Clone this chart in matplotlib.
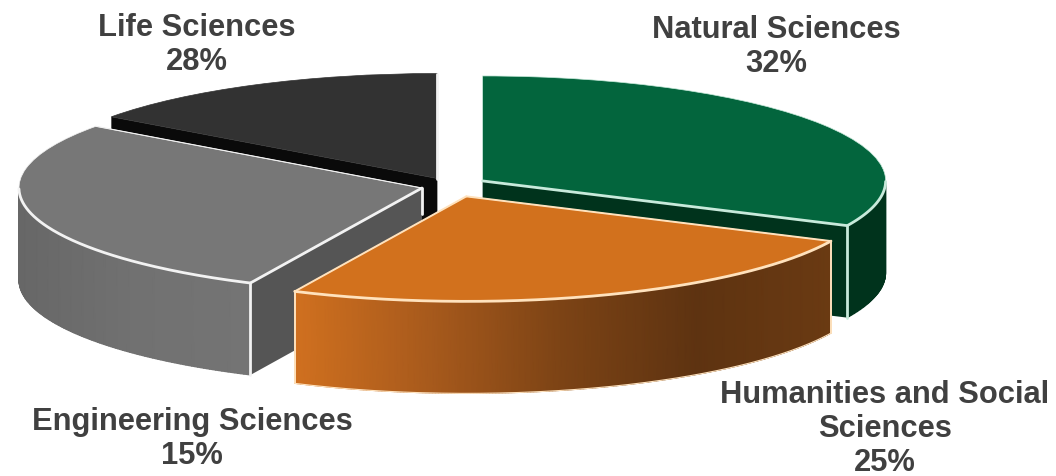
import numpy as np
import matplotlib
matplotlib.use("Agg")
import matplotlib.pyplot as plt
from matplotlib.colors import LinearSegmentedColormap

plt.rcParams['font.family'] = ['Liberation Sans', 'DejaVu Sans']

names = ["Natural Sciences", "Humanities and Social\nSciences", "Engineering Sciences", "Life Sciences"]
# printed percentages
label_pct = [32, 25, 15, 28]
# slice sizes as drawn (engineering and life are swapped against their labels in the picture)
shares = [32, 25, 28, 15]
explode = [0.09, 0.105, 0.077, 0.08]

W, H = 1056, 476
cx, cy = 452, 186   # pie centre in pixels
rx, ry = 403, 105   # pie radii in pixels
depth = 92 / ry     # wall height in data units

top_colors = ["#03653d", "#d2711d", "#777777", "#323232"]
cut_colors = ["#00331c", "#5e3311", "#555555", "#0a0a0a"]
line_colors = ["#c8eadb", "#ffe2bd", "#f2f2f2", "#f2f2f2"]
wall_stops = [
    ["#00331c", "#00331c"],
    ["#d0701f", "#a85a1c", "#7c4315", "#5e3311", "#6a3a12"],
    ["#676767", "#717171", "#747474"],
    ["#222222", "#222222"],
]
label_xy = [(776, 47), (885, 429), (192, 439), (197, 45)]

fig = plt.figure(figsize=(W / 100, H / 100), dpi=100)
ax = fig.add_axes([0, 0, 1, 1])
wedges, _ = ax.pie(shares, explode=explode, colors=top_colors, startangle=90,
                   counterclock=False, center=(0, 0), radius=1)
ax.set_aspect('auto')
ax.set_xlim(-cx / rx, (W - cx) / rx)
ax.set_ylim((cy - H) / ry, cy / ry)


def rim(w, t):
    t = np.radians(t)
    return w.center[0] + w.r * np.cos(t), w.center[1] + w.r * np.sin(t)


def edge(xs, ys, color, z, lw=2.0):
    ax.plot(xs, ys, color=color, lw=lw, zorder=z, solid_capstyle='round')


# back slices first so the front ones cover them
draw_order = [3, 0, 2, 1]
for n, i in enumerate(draw_order):
    w = wedges[i]
    z = 2 + n * 3
    a0, a1 = w.theta1, w.theta2
    ax0, ay0 = w.center
    c = line_colors[i]

    # cut faces
    for a in (a0, a1):
        rx_, ry_ = rim(w, a)
        ax.fill([ax0, rx_, rx_, ax0], [ay0, ry_, ry_ - depth, ay0 - depth],
                color=cut_colors[i], lw=0, zorder=z)

    # outer wall, only the part that faces the viewer
    lo, hi = a0 % 360, a1 % 360
    if hi <= lo:
        hi += 360
    ts = np.linspace(lo, hi, 200)
    ts = ts[(ts % 360 >= 180)]
    if len(ts) > 1:
        xs, ys = rim(w, ts)
        X = np.vstack([xs, xs])
        Y = np.vstack([ys, ys - depth])
        C = np.vstack([xs, xs])
        cmap = LinearSegmentedColormap.from_list("wall", wall_stops[i])
        ax.pcolormesh(X, Y, C, shading='gouraud', cmap=cmap, zorder=z + 0.5)
        edge(xs, ys, c, z + 2)
        if i == 1:
            edge(xs, ys - depth, c, z + 2, lw=0.8)

    w.set_zorder(z + 1)
    w.set_edgecolor(c if i != 3 else top_colors[3])
    w.set_linewidth(0.5)

    # light bevel lines along the front edges of each top face
    if i == 0:
        tx, ty = rim(w, a0)
        edge([ax0, tx], [ay0, ty], c, z + 2)
        edge([tx, tx], [ty, ty - depth], c, z + 2)
    elif i == 1:
        for a in (a0, a1):
            tx, ty = rim(w, a)
            edge([ax0, tx], [ay0, ty], c, z + 2, lw=1.4)
            edge([tx, tx], [ty, ty - depth], c, z + 2, lw=1.4)
    elif i == 2:
        tx, ty = rim(w, a1)
        edge([ax0, tx], [ay0, ty], c, z + 2)
        edge([tx, tx], [ty, ty - depth], c, z + 2)
        edge([ax0, ax0], [ay0, ay0 - 26 / ry], c, z + 2)
        tx, ty = rim(w, a0)
        edge([ax0, tx], [ay0, ty], c, z + 2, lw=0.8)
    else:
        tx, ty = rim(w, a0)
        edge([ax0, tx], [ay0, ty], c, z + 2)

for name, pct, (px, py) in zip(names, label_pct, label_xy):
    fig.text(px / W, 1 - py / H, f"{name}\n{pct}%", ha='center', va='center',
             fontsize=22.2, fontweight='bold', color="#404040", linespacing=1.16)

fig.savefig("out.png", dpi=100)
